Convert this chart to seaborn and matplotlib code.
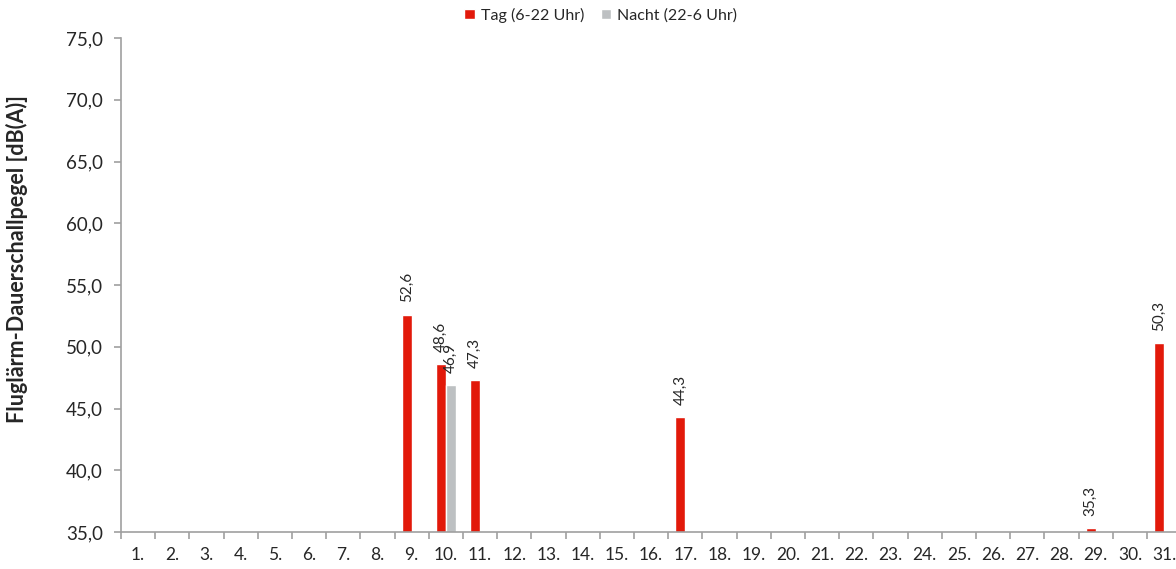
import numpy as np
import pandas as pd
import matplotlib
matplotlib.use("Agg")
import matplotlib.pyplot as plt
import seaborn as sns
from matplotlib.ticker import FuncFormatter, MultipleLocator

# data
days = [f"{d}." for d in range(1, 32)]
tag = [np.nan] * 31
nacht = [np.nan] * 31
tag[8] = 52.6
tag[9] = 48.6
tag[10] = 47.3
tag[16] = 44.3
tag[28] = 35.3
tag[30] = 50.3
nacht[9] = 46.9

series_names = ["Tag (6-22 Uhr)", "Nacht (22-6 Uhr)"]
colors = ["#E2190A", "#BDC0C2"]

df = pd.DataFrame({
    "Tag": days * 2,
    "Wert": tag + nacht,
    "Serie": [series_names[0]] * 31 + [series_names[1]] * 31,
})

sns.set_style("white")
plt.rcParams["font.family"] = ["Lato", "DejaVu Sans"]

fig = plt.figure(figsize=(11.76, 5.69), dpi=100)
ax = fig.add_axes([0.1029, 0.065, 0.9016, 0.868])

sns.barplot(data=df, x="Tag", y="Wert", hue="Serie", order=days,
            hue_order=series_names, palette=colors, width=0.59,
            saturation=1, ax=ax)

def comma(v, pos=None):
    return f"{v:.1f}".replace(".", ",")

# value labels
for cont in ax.containers:
    labels = []
    for b in cont:
        h = b.get_height()
        labels.append("" if np.isnan(h) else comma(h))
    ax.bar_label(cont, labels=labels, rotation=90, padding=9, fontsize=11)

ax.set_xlim(-0.5, 30.5)
ax.set_ylim(35, 75)
ax.yaxis.set_major_locator(MultipleLocator(5))
ax.yaxis.set_major_formatter(FuncFormatter(comma))

# tick marks between the categories, labels at the centers
ax.set_xticks(np.arange(-0.5, 31, 1), minor=True)
ax.tick_params(axis="x", which="major", length=0, pad=11, labelsize=12.5)
ax.tick_params(axis="x", which="minor", length=5, width=1.2, color="#A0A0A0", direction="out")
ax.tick_params(axis="y", length=5, width=1.2, color="#A0A0A0", direction="out", labelsize=13.5, pad=8)
ax.tick_params(bottom=True, left=True, which="both")

for s in ["top", "right"]:
    ax.spines[s].set_visible(False)
for s in ["left", "bottom"]:
    ax.spines[s].set_color("#A0A0A0")
    ax.spines[s].set_linewidth(1.2)

ax.set_xlabel("")
ax.set_ylabel("Fluglärm-Dauerschallpegel [dB(A)]", fontsize=15.5, fontweight="bold")
ax.yaxis.set_label_coords(-0.088, 0.553)

handles, labels = ax.get_legend_handles_labels()
ax.get_legend().remove()
fig.legend(handles, labels, loc="upper center", bbox_to_anchor=(0.511, 1.012), ncol=2,
           frameon=False, fontsize=11.5, handlelength=0.65, handleheight=0.65,
           handletextpad=0.4, columnspacing=1.0)

fig.savefig("out.png", dpi=100)
